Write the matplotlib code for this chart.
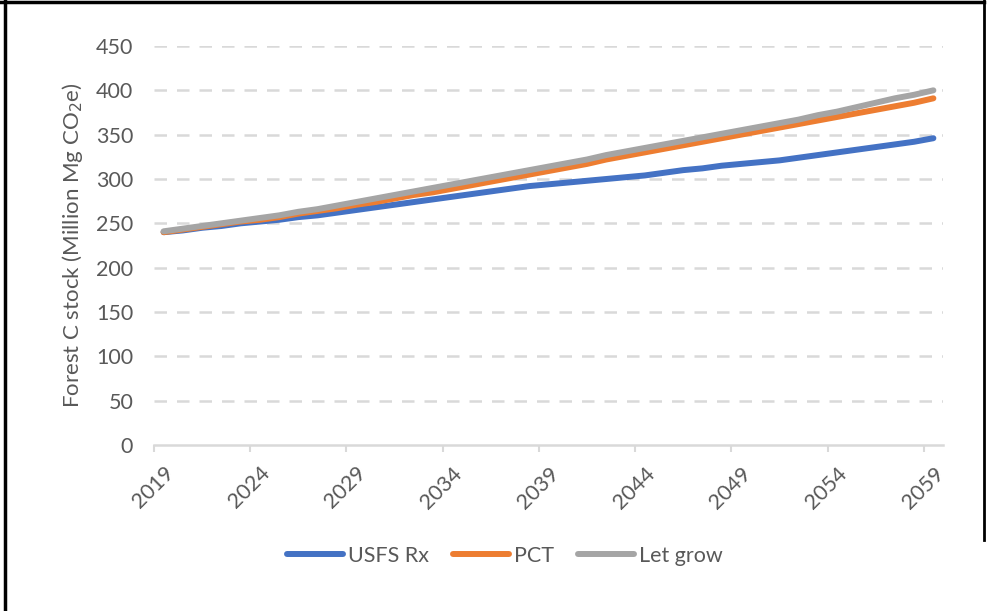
import matplotlib
matplotlib.use("Agg")
import matplotlib.pyplot as plt
from matplotlib.lines import Line2D

plt.rcParams['font.family'] = ['Lato', 'DejaVu Sans']

years = list(range(2019, 2060))
usfs_rx = [240, 242, 245, 247, 250, 252, 254, 257, 259, 262,
           265, 268, 271, 274, 277, 280, 283, 286, 289, 292,
           294, 296, 298, 300, 302, 304, 307, 310, 312, 315,
           317, 319, 321, 324, 327, 330, 333, 336, 339, 342, 346]
pct = [240, 243, 246, 249, 252, 254, 257, 261, 264, 267,
       271, 274, 278, 282, 285, 289, 293, 297, 301, 305,
       309, 313, 317, 322, 326, 330, 334, 338, 342, 346,
       350, 354, 358, 362, 366, 370, 374, 378, 382, 386, 391]
let_grow = [241, 244, 247, 250, 253, 256, 259, 263, 266, 270,
            274, 278, 282, 286, 290, 294, 298, 302, 306, 310,
            314, 318, 322, 327, 331, 335, 339, 343, 347, 351,
            355, 359, 363, 367, 372, 376, 381, 386, 391, 395, 400]
series_names = ["USFS Rx", "PCT", "Let grow"]
colors = ["#4472C4", "#ED7D31", "#A5A5A5"]
y_ticks = list(range(0, 451, 50))
x_label_years = list(range(2019, 2060, 5))

W, H = 988, 611
fig = plt.figure(figsize=(W / 100, H / 100), dpi=100)
ax = fig.add_axes([154 / W, 1 - 445 / H, (943 - 154) / W, (445 - 46) / H])

text_col = "#595959"
grid_col = "#D9D9D9"

for vals, name, c in zip([usfs_rx, pct, let_grow], series_names, colors):
    ax.plot(years, vals, color=c, lw=4.3, solid_capstyle='round',
            solid_joinstyle='round', label=name, zorder=3)

ax.set_xlim(2018.5, 2059.5)
ax.set_ylim(0, 450)
ax.set_yticks(y_ticks)
ax.set_yticklabels([str(v) for v in y_ticks])
ax.tick_params(axis='y', length=0, pad=15, labelsize=15.5, labelcolor=text_col)

# category axis: ticks at boundaries, labels centered
ax.set_xticks(x_label_years)
ax.set_xticklabels([str(y) for y in x_label_years], rotation=45,
                   ha='right', va='top', rotation_mode='anchor')
ax.tick_params(axis='x', length=0, pad=13, labelsize=15.5, labelcolor=text_col)
ax.set_xticks([2018.5 + 5 * k for k in range(9)], minor=True)
ax.tick_params(axis='x', which='minor', length=5, width=1.5, color=grid_col)

ax.yaxis.grid(True, color=grid_col, lw=1.8, linestyle=(0, (5, 4)))
ax.set_axisbelow(True)
for s in ['left', 'right', 'top']:
    ax.spines[s].set_visible(False)
ax.spines['bottom'].set_color(grid_col)
ax.spines['bottom'].set_linewidth(1.8)
ax.get_ygridlines()[0].set_visible(False)

ax.set_ylabel("Forest C stock (Million Mg CO$_2$e)", fontsize=16,
              color=text_col, labelpad=8)

handles = [Line2D([0], [0], color=c, lw=4.3, solid_capstyle='round')
           for c in colors]
fig.legend(handles, series_names, loc='center', bbox_to_anchor=(505 / W, 1 - 556 / H),
           ncol=3, frameon=False, fontsize=15.5, labelcolor=text_col,
           handlelength=2.6, handletextpad=0.25, columnspacing=1.1)

# figure border
fig.add_artist(Line2D([5 / W, 5 / W], [0, 1], transform=fig.transFigure,
                      color='black', lw=2.5))
fig.add_artist(Line2D([0, 984 / W], [1 - 1.5 / H, 1 - 1.5 / H],
                      transform=fig.transFigure, color='black', lw=2.5))
fig.add_artist(Line2D([984 / W, 984 / W], [1 - 540 / H, 1],
                      transform=fig.transFigure, color='black', lw=2.0))

fig.savefig("out.png", dpi=100)
